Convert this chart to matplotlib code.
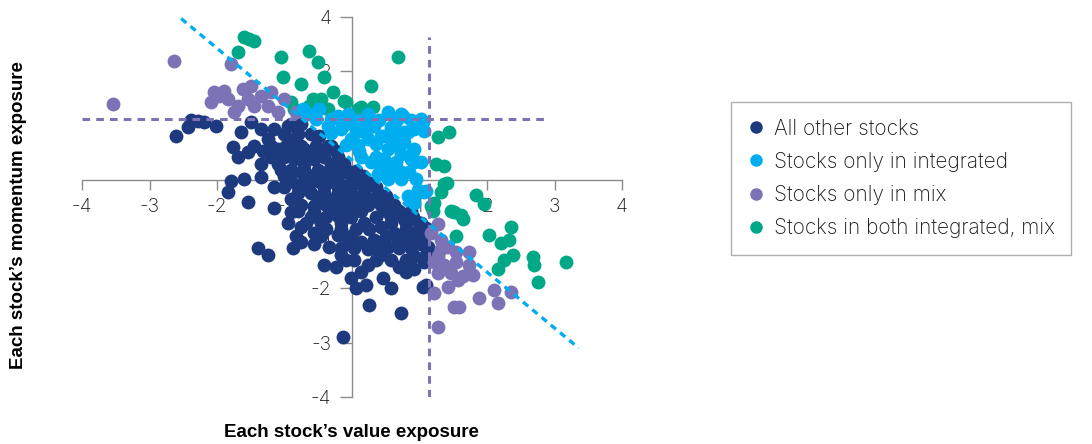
import matplotlib
matplotlib.use("Agg")
import matplotlib.pyplot as plt
from matplotlib.lines import Line2D

plt.rcParams['font.family'] = ['Inter', 'DejaVu Sans']
plt.rcParams['font.weight'] = 'light'

# ---- data (value exposure, momentum exposure) ----
other_x = [-2.61, -2.43, -2.39, -2.28, -2.19, -2.01, -1.76, -1.69, -1.79, -1.84,
           -1.60, -1.35, -1.35, -1.54, -1.16, -1.16, -1.64, -1.50, -1.35, -1.24,
           -1.10, -1.45, -1.54, -1.16, -0.95, -0.86, -1.05, -0.86, -0.71, -0.76,
           -0.56, -0.65, -0.46, -0.36, -0.16, -0.12, -0.27, -0.56, -1.39, -1.24,
           -0.87, -0.83, -0.95, -0.90, -0.56, -0.56, -0.41, -0.24, -0.01, 0.06,
           0.21, 0.25, 0.46, 0.58, 0.73, -0.13, -0.34, -0.21, -0.06, 0.03,
           0.24, 0.03, 0.24, 0.33, 0.53, 0.68, 0.70, 0.92, 0.92, 1.07,
           1.05, 1.10, 0.87, 0.62, 0.43, 0.18, -0.21, -0.56, -0.46, -0.76,
           0.77, 1.02, 0.92, 1.07, 1.13,
           -0.90, -0.76, -1.01, -0.80, -0.61, -0.49, -1.20, -0.98, -0.76, -0.53,
           -0.31, -1.20, -1.01, -0.80, -0.61, -0.41, -0.21, -0.90, -0.71, -0.50,
           -0.31, -0.09, 0.06, -0.90, -0.71, -0.50, -0.31, 0.09, 0.28, -0.80,
           -0.61, -0.41, -0.21, -0.01, 0.18, 0.39, 0.50, -0.76, -0.39, -0.16,
           0.03, 0.24, 0.43, 0.62, -0.61, -0.39, -0.01, 0.36, 0.58, 0.90,
           -0.39, -0.16, 0.06, 0.25, 0.80, 1.10, -0.76, 0.13, 0.46, 0.84,
           1.02, -0.16, 0.43, 1.10,
           -1.32, -0.90, -0.43, -0.24, -1.10, -0.71, -0.31, -0.12,
           -1.01, -0.61, -0.41, -0.21, -0.01, 0.16,
           -1.01, -0.80, -0.41, -0.21, -0.01, 0.18, 0.36,
           -0.90, -0.50, -0.09, 0.10, 0.31, 0.52,
           -0.80, -0.31, -0.09, 0.13, 0.50, 0.70, 0.87,
           -0.68, -0.16, 0.58, 0.80, 0.99,
           -0.46, -0.01, 0.50, 0.73, 0.95,
           -0.16, 0.36, 0.70, -0.09, 0.36, 0.58, 0.80, 0.13, 0.80]
other_y = [0.80, 0.97, 1.10, 1.09, 1.06, 0.99, 0.60, 0.42, -0.03, -0.23,
           0.01, 0.06, 0.29, -0.40, -0.14, -0.51, 0.88, 1.06, 0.93, 0.75,
           0.56, 0.62, 0.51, 0.93, 0.99, 0.75, 0.19, 0.38, 0.56, 0.14,
           0.38, -0.12, 0.14, 0.62, 0.25, -0.12, -0.36, -0.49, -1.25, -1.38,
           -1.25, -1.04, -0.79, -0.60, -0.97, -1.19, -1.56, -1.60, -1.80, -1.99,
           -1.93, -2.30, -1.80, -1.99, -2.45, -2.89, -1.23, -1.01, -1.10, -1.47,
           -1.56, -1.25, -1.28, -1.10, -1.23, -1.10, -1.60, -1.41, -1.65, -1.51,
           -1.97, -1.93, -1.25, -0.97, -0.86, -0.79, -0.67, -0.60, -0.79, -0.86,
           -0.73, -0.79, -0.97, -1.04, -1.23,
           1.03, 1.03, 0.84, 0.84, 0.84, 0.80, 0.62, 0.62, 0.62, 0.62,
           0.62, 0.42, 0.42, 0.42, 0.42, 0.42, 0.42, 0.19, 0.19, 0.19,
           0.19, 0.19, 0.16, -0.03, -0.03, -0.03, -0.03, -0.03, -0.06, -0.25,
           -0.25, -0.25, -0.25, -0.25, -0.25, -0.25, -0.30, -0.47, -0.47, -0.47,
           -0.47, -0.47, -0.47, -0.47, -0.69, -0.69, -0.69, -0.69, -0.69, -0.69,
           -0.91, -0.91, -0.91, -0.91, -0.91, -0.88, -1.14, -1.14, -1.14, -1.14,
           -1.19, -1.38, -1.38, -1.38,
           0.53, 0.53, 0.53, 0.53, 0.30, 0.30, 0.30, 0.30,
           0.08, 0.08, 0.08, 0.08, 0.08, 0.08,
           -0.14, -0.14, -0.14, -0.14, -0.14, -0.14, -0.14,
           -0.36, -0.36, -0.36, -0.36, -0.36, -0.36,
           -0.58, -0.58, -0.58, -0.58, -0.58, -0.58, -0.58,
           -0.80, -0.80, -0.80, -0.80, -0.80,
           -1.03, -1.03, -1.03, -1.03, -1.03,
           -1.25, -1.25, -1.25, -1.47, -1.47, -1.47, -1.47, -1.69, -1.69]

integ_x = [-0.65, -0.21, -0.06, 0.24, 0.53, 0.73, 1.02, -0.36, -0.16, 0.09,
           0.33, 0.58, 0.77, 0.92, -0.01, 0.24, 0.43, 0.77, 0.92, 0.10,
           0.13, 0.36, 0.53, 0.73, 0.87, 0.43, 0.58, 0.73, 0.53, 0.39,
           0.98, 0.83, 0.92, 1.07, 0.76, 1.05, 1.07, 0.83, 0.47, 0.90,
           0.92, 0.47, 0.68, 0.84, 0.53, 0.87, 0.99, 1.10, -0.72, -0.49,
           -0.31, -0.09, 0.21, 0.65, 0.36, 0.65, -0.53, 0.06,
           -0.16, 0.06, 0.40, 0.87, -0.31, 0.21, 0.65, -0.09, 0.09, 0.61,
           0.28, 0.65, 1.02, 0.73, 0.95]
integ_y = [1.21, 1.17, 1.21, 1.21, 1.25, 1.21, 1.12, 0.99, 0.93, 0.99,
           0.99, 0.97, 0.88, 0.93, 0.75, 0.75, 0.80, 0.69, 0.56, 0.53,
           0.42, 0.43, 0.56, 0.47, 0.38, 0.23, 0.23, 0.14, 0.01, 0.10,
           -0.18, -0.30, -0.42, -0.23, 1.17, 1.06, 0.90, 0.88, 0.80, 0.53,
           0.32, 0.38, 0.19, 0.14, 0.06, -0.36, -0.23, -0.21, 1.30, 1.30,
           1.12, 1.03, 1.08, 1.08, 0.66, 0.75, 1.12, 0.88,
           1.10, 1.10, 1.10, 1.10, 0.86, 0.86, 0.86, 0.64, 0.64, 0.64,
           0.32, 0.32, 0.32, 0.01, 0.01]

mix_x = [-2.64, -3.54, -1.79, -2.04, -2.09, -1.90, -1.84, -1.69, -1.61, -1.50,
         -1.45, -1.35, -1.24, -1.20, -1.10, -1.01, -0.83, -1.75, -1.97, -1.54,
         1.27, 1.17, 1.32, 1.42, 1.54, 1.73, 1.27, 1.36, 1.27, 1.47,
         1.64, 1.79, 1.73, 1.21, 1.42, 1.51, 1.59, 1.88, 2.10, 2.16,
         2.36, 1.27, 1.21, 1.57, 1.32, 1.54]
mix_y = [2.19, 1.40, 2.13, 1.62, 1.43, 1.64, 1.49, 1.36, 1.67, 1.73,
         1.36, 1.54, 1.36, 1.62, 1.25, 1.49, 1.25, 1.25, 1.54, 1.49,
         -0.82, -0.97, -1.10, -1.23, -1.32, -1.32, -1.41, -1.56, -1.71, -1.71,
         -1.78, -1.75, -1.56, -2.08, -1.97, -2.34, -2.34, -2.17, -2.02, -2.26,
         -2.06, -2.71, -1.52, -1.84, -1.28, -1.51]

both_x = [-1.60, -1.53, -1.45, -1.69, -1.05, -0.64, -0.50, -1.02, -0.76, -0.41,
          -0.28, -0.46, -0.58, -0.64, -0.86, -0.12, 0.09, -0.36, 0.28, 0.13,
          0.31, -0.90, 0.68, -0.09, 1.27, 1.44, 1.24, 1.36, 1.41, 1.32,
          1.84, 1.96, 1.17, 1.51, 1.61, 1.36, 1.21, 1.20, 1.47, 1.64,
          1.54, 2.03, 2.21, 2.33, 2.36, 2.16, 2.25, 2.39, 2.68, 2.70,
          2.76, 3.17]
both_y = [2.63, 2.60, 2.56, 2.36, 2.26, 2.38, 2.17, 1.89, 1.77, 1.89,
          1.62, 1.49, 1.49, 1.36, 1.30, 1.45, 1.30, 1.30, 1.73, 1.34,
          1.34, 1.43, 2.26, 1.43, 0.79, 0.88, 0.29, 0.25, -0.05, -0.23,
          -0.27, -0.45, -0.49, -0.60, -0.64, -0.08, -0.42, -0.58, -0.58, -0.73,
          -1.04, -1.01, -1.16, -1.10, -0.86, -1.65, -1.47, -1.38, -1.43, -1.56,
          -1.88, -1.52]

# threshold / frontier lines
thresh_value = 1.14
thresh_mom = 1.12
diag_x = [-2.53, 3.36]
diag_y = [2.97, -3.10]

x_ticks = [-4, -3, -2, -1, 0, 1, 2, 3, 4]
y_ticks = [3, 2, 1, 0, -1, -2, -3, -4]
y_tick_labels = ['4', '2', '1', '0', '-1', '-2', '-3', '-4']

series = [
    ("All other stocks", other_x, other_y, "#1e3a7e"),
    ("Stocks only in integrated", integ_x, integ_y, "#00aeef"),
    ("Stocks only in mix", mix_x, mix_y, "#7b73b6"),
    ("Stocks in both integrated, mix", both_x, both_y, "#00a887"),
]

W, H = 1092, 444
fig = plt.figure(figsize=(W / 100, H / 100), dpi=100)
ax = fig.add_axes([82 / W, 1 - 397 / H, 540 / W, 380 / H])
ax.set_xlim(-4, 4)
ax.set_ylim(-4, 3)

# draw order: navy, green, purple, light blue
for idx in [0, 3, 2, 1]:
    name, xs, ys, col = series[idx]
    ax.scatter(xs, ys, s=100, color=col, linewidths=0, zorder=2)

purple = "#7b73b6"
ax.plot([-4, 2.92], [thresh_mom, thresh_mom], color=purple, lw=2.2,
        dashes=(2.5, 2), zorder=3)
ax.plot([thresh_value, thresh_value], [-4, 2.63], color=purple, lw=2.2,
        dashes=(2.5, 2), zorder=3)
ax.plot(diag_x, diag_y, color="#00aeef", lw=2.4, dashes=(2, 1.6), zorder=3)

for side in ["top", "right"]:
    ax.spines[side].set_visible(False)
ax.spines["left"].set_position(("data", 0))
ax.spines["bottom"].set_position(("data", 0))
for side in ["left", "bottom"]:
    ax.spines[side].set_color("#8c8c8c")
    ax.spines[side].set_linewidth(1.0)
ax.set_axisbelow(True)
for sp in ax.spines.values():
    sp.set_zorder(0.5)

ax.set_xticks(x_ticks, [str(t) for t in x_ticks])
ax.set_yticks(y_ticks, y_tick_labels)
ax.tick_params(axis="x", direction="out", length=7, width=1, color="#8c8c8c",
               pad=6, labelsize=14, labelcolor="#1a1a1a")
ax.tick_params(axis="y", direction="out", length=9, width=1, color="#8c8c8c",
               pad=6, labelsize=14, labelcolor="#1a1a1a")
ax.patch.set_alpha(0)

fig.text(351 / W, 1 - 432 / H, "Each stock\u2019s value exposure", ha="center",
         va="center", fontsize=13.5, fontweight="bold", family="Liberation Sans")
fig.text(19 / W, 1 - 215 / H, "Each stock\u2019s momentum exposure", ha="center",
         va="center", rotation=90, fontsize=13.5, fontweight="bold",
         family="Liberation Sans")

handles = [Line2D([], [], ls="none", marker="o", ms=9, mec="none", mfc=c)
           for _, _, _, c in series]
labels = [s[0] for s in series]
leg = fig.legend(handles, labels, loc="upper left",
                 bbox_to_anchor=(731 / W, 1 - 102 / H), fontsize=15,
                 frameon=True, fancybox=False, handlelength=0.8,
                 handletextpad=0.45, labelspacing=0.63, borderpad=0.8,
                 borderaxespad=0, labelcolor="#1a1a1a")
leg.get_frame().set_edgecolor("#9a9a9a")
leg.get_frame().set_linewidth(1.0)

fig.savefig("out.png", dpi=100)
